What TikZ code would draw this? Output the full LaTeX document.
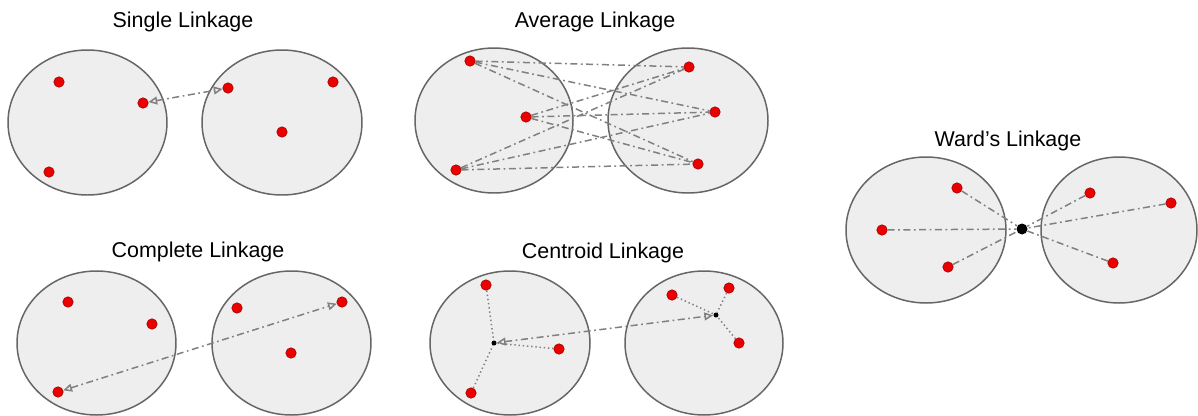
\documentclass[tikz,border=0pt]{standalone}
\usepackage{fontspec}
\setmainfont{Liberation Sans}
\usetikzlibrary{arrows.meta}
\definecolor{clusterfill}{HTML}{EEEEEE}
\definecolor{clusterline}{HTML}{666666}
\definecolor{linkgray}{HTML}{808080}
\tikzset{
    titlestyle/.style={font=\fontsize{12.2}{14}\selectfont, text=black},
    cluster/.style={fill=clusterfill, draw=clusterline, line width=0.85pt},
    datapt/.style={circle, inner sep=0pt, minimum size=0.21cm, fill=red!92!black, draw=red!60!black, line width=0.3pt},
    centpt/.style={circle, inner sep=0pt, minimum size=0.1cm, fill=black},
    wardpt/.style={circle, inner sep=0pt, minimum size=0.22cm, fill=black},
    dashdot/.style={linkgray, line width=0.85pt, dash pattern=on 4pt off 2pt on 1pt off 2pt},
    dotline/.style={linkgray, line width=0.85pt, dash pattern=on 0.8pt off 1.6pt},
    linkarrow/.style={dashdot, {Triangle[open, length=5pt, width=4.5pt]}-{Triangle[open, length=5pt, width=4.5pt]}}
}

\begin{document}
\begin{tikzpicture}[x=0.02cm, y=-0.02cm]

        \useasboundingbox (0,0) rectangle (1198,416);

        % ================= SINGLE LINKAGE =================
        \node[titlestyle] (singletitle) at (183,22) {Single Linkage};
        \draw[cluster] (87.5,122.5) ellipse (79.5 and 72.5);
        \draw[cluster] (282,122.5) ellipse (80 and 72.5);
        \node[datapt] (sa1) at (59,82) {};
        \node[datapt] (sa2) at (143,103) {};
        \node[datapt] (sa3) at (49,172) {};
        \node[datapt] (sb1) at (228,88) {};
        \node[datapt] (sb2) at (333,82) {};
        \node[datapt] (sb3) at (282,132) {};
        \draw[linkarrow] (sa2) -- (sb1);

        % ================= AVERAGE LINKAGE =================
        \node[titlestyle] (avgtitle) at (595,22) {Average Linkage};
        \draw[cluster] (494,120.5) ellipse (79 and 72.5);
        \draw[cluster] (688,120.5) ellipse (80 and 72.5);
        \node[datapt] (aa1) at (470,61) {};
        \node[datapt] (aa2) at (526,117) {};
        \node[datapt] (aa3) at (456,170) {};
        \node[datapt] (ab1) at (689,67) {};
        \node[datapt] (ab2) at (715,112) {};
        \node[datapt] (ab3) at (698,164) {};
        \foreach \i in {1,2,3}
            \foreach \j in {1,2,3}
                \draw[dashdot] (aa\i) -- (ab\j);

        % ================= COMPLETE LINKAGE =================
        \node[titlestyle] (comptitle) at (198,252) {Complete Linkage};
        \draw[cluster] (96.5,343) ellipse (79.5 and 72);
        \draw[cluster] (291.5,343) ellipse (79.5 and 72);
        \node[datapt] (ca1) at (68,302) {};
        \node[datapt] (ca2) at (152,324) {};
        \node[datapt] (ca3) at (58,392) {};
        \node[datapt] (cb1) at (237,308) {};
        \node[datapt] (cb2) at (342,302) {};
        \node[datapt] (cb3) at (291,353) {};
        \draw[linkarrow] (ca3) -- (cb2);

        % ================= CENTROID LINKAGE =================
        \node[titlestyle] (centtitle) at (603,253) {Centroid Linkage};
        \draw[cluster] (510,343) ellipse (80 and 72);
        \draw[cluster] (704,343) ellipse (79 and 72);
        \node[datapt] (ta1) at (486,285) {};
        \node[datapt] (ta2) at (559,349) {};
        \node[datapt] (ta3) at (471,393) {};
        \node[datapt] (tb1) at (672,295) {};
        \node[datapt] (tb2) at (729,288) {};
        \node[datapt] (tb3) at (739,343) {};
        \node[centpt] (tca) at (494,343) {};
        \node[centpt] (tcb) at (716,315) {};
        \foreach \k in {1,2,3} {
            \draw[dotline] (ta\k) -- (tca);
            \draw[dotline] (tb\k) -- (tcb);
        }
        \draw[linkarrow] (tca) -- (tcb);

        % ================= WARD'S LINKAGE =================
        \node[titlestyle] (wardtitle) at (1008,141) {Ward’s Linkage};
        \draw[cluster] (926,230) ellipse (80 and 73);
        \draw[cluster] (1119,230) ellipse (78 and 73);
        \node[datapt] (wa1) at (957,188) {};
        \node[datapt] (wa2) at (882,230) {};
        \node[datapt] (wa3) at (948,267) {};
        \node[datapt] (wb1) at (1090,193) {};
        \node[datapt] (wb2) at (1171,203) {};
        \node[datapt] (wb3) at (1113,263) {};
        \node[wardpt] (wc) at (1022,229) {};
        \foreach \k in {wa1,wa2,wa3,wb1,wb2,wb3}
            \draw[dashdot] (\k) -- (wc);

\end{tikzpicture}
\end{document}
